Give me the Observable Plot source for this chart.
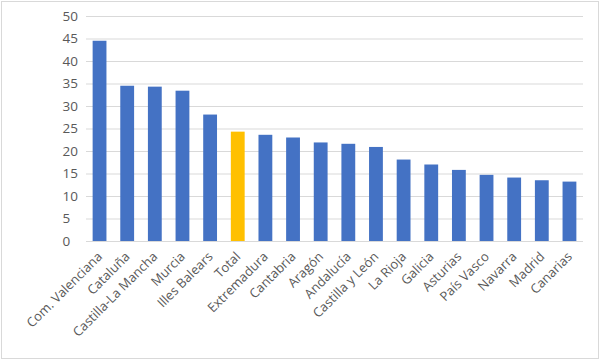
<!DOCTYPE html>
<html>
<head>
<meta charset="utf-8">
<script src="https://cdn.jsdelivr.net/npm/d3@7"></script>
<script src="https://cdn.jsdelivr.net/npm/@observablehq/plot@0.6"></script>
<style>
  html, body { margin: 0; padding: 0; background: #fff; }
  #chart svg { display: block; outline: 1px solid #d9d9d9; outline-offset: -2px; }
</style>
</head>
<body>
<div id="chart"></div>
<script>
const regions = ["Com. Valenciana", "Cataluña", "Castilla-La Mancha", "Murcia", "Illes Balears", "Total", "Extremadura", "Cantabria", "Aragón", "Andalucía", "Castilla y León", "La Rioja", "Galicia", "Asturias", "País Vasco", "Navarra", "Madrid", "Canarias"];
const values = [44.5, 34.5, 34.3, 33.4, 28.1, 24.3, 23.6, 23.0, 21.9, 21.6, 20.9, 18.1, 17.0, 15.8, 14.7, 14.1, 13.5, 13.2];
const yTicks = [0, 5, 10, 15, 20, 25, 30, 35, 40, 45, 50];
const highlight = "Total";

const data = regions.map((r, i) => ({ region: r, value: values[i] }));

const chart = Plot.plot({
  width: 600,
  height: 360,
  marginLeft: 86,
  marginRight: 17,
  marginTop: 16,
  marginBottom: 119,
  style: { fontFamily: "'Open Sans', sans-serif", fontSize: "13px", color: "#595959", background: "#fff" },
  x: { domain: regions, paddingInner: 0.5, paddingOuter: 0.24, round: false, label: null },
  y: { domain: [0, 50], ticks: yTicks, label: null, axis: null },
  marks: [
    Plot.gridY(yTicks, { stroke: "#d9d9d9", strokeOpacity: 1, strokeWidth: 1 }),
    Plot.text(yTicks, { y: d => d, text: d => String(d), frameAnchor: "left", textAnchor: "start", dx: -24, fill: "#595959", fontSize: 13.5 }),
    Plot.axisX({ tickSize: 0, tickPadding: 13, tickRotate: -45, label: null, fill: "#595959", fontSize: 13 }),
    Plot.barY(data, { x: "region", y: "value", fill: d => d.region === highlight ? "#ffc000" : "#4472c4" }),
    Plot.ruleY([0], { stroke: "#d9d9d9" })
  ]
});
document.getElementById("chart").appendChild(chart);
</script>
</body>
</html>
